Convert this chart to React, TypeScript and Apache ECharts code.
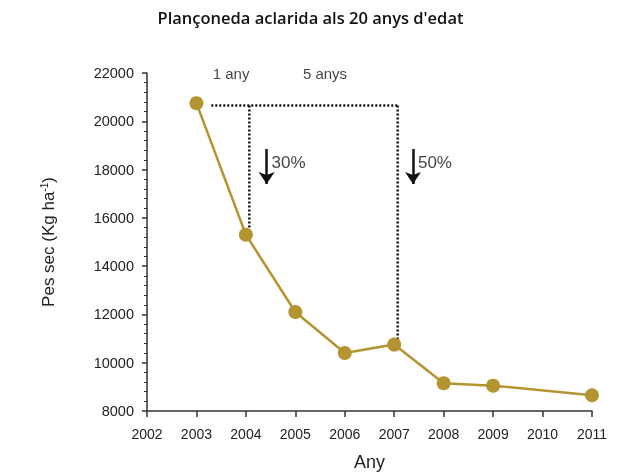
import React, { useEffect, useRef } from "react";
import * as echarts from "echarts";

const years = [2003, 2004, 2005, 2006, 2007, 2008, 2009, 2011];
const weights = [20750, 15300, 12100, 10400, 10750, 9150, 9050, 8650];
const yTicks = [8000, 22000, 2000];
const xRange = [2002, 2011];
const thinLine = [[2003.3, 20650], [2007.07, 20650]];
const drop1 = [[2004.07, 20650], [2004.07, 15300]];
const drop2 = [[2007.07, 20650], [2007.07, 10850]];
const arrows = [
  [[2004.42, 18850], [2004.42, 17400]],
  [[2007.38, 18850], [2007.38, 17400]],
];
const notes = [
  { x: 2003.7, y: 22000, text: "1 any", align: "center" },
  { x: 2005.6, y: 22000, text: "5 anys", align: "center" },
  { x: 2004.52, y: 18300, text: "30%", align: "left" },
  { x: 2007.48, y: 18300, text: "50%", align: "left" },
];

const GOLD = "#B39430";

export default function App() {
  const ref = useRef<HTMLDivElement>(null);
  useEffect(() => {
    const chart = echarts.init(ref.current!, null, { renderer: "svg" });
    const dotted = { color: "#111", width: 2.5, type: [2, 2] as any };
    chart.setOption({
      animation: false,
      title: {
        text: "Plançoneda aclarida als 20 anys d'edat",
        left: "center",
        top: 4,
        textStyle: { fontFamily: "Open Sans", fontWeight: 600, fontSize: 16.5, color: "#111" },
      },
      grid: { left: 147, right: 29, top: 73, bottom: 64, outerBoundsMode: "none", containLabel: false },
      xAxis: {
        type: "value",
        min: xRange[0],
        max: xRange[1],
        interval: 1,
        name: "Any",
        nameLocation: "middle",
        nameGap: 42,
        nameTextStyle: { fontFamily: "Liberation Sans", fontSize: 18, color: "#222" },
        splitLine: { show: false },
        axisLine: { lineStyle: { color: "#333", width: 1.5 } },
        axisTick: { lineStyle: { color: "#333", width: 1.5 }, length: 6 },
        axisLabel: { fontFamily: "Liberation Sans", fontSize: 14, color: "#222", margin: 16, formatter: (v: number) => String(v) },
      },
      yAxis: {
        type: "value",
        min: yTicks[0],
        max: yTicks[1],
        interval: yTicks[2],
        name: "Pes sec (Kg ha{sup|-1})",
        nameLocation: "middle",
        nameGap: 90,
        nameTextStyle: {
          fontFamily: "Liberation Sans",
          fontSize: 17,
          color: "#222",
          rich: { sup: { fontFamily: "Liberation Sans", fontSize: 10, color: "#222", verticalAlign: "top", padding: [0, 0, 8, 0] } },
        },
        splitLine: { show: false },
        axisLine: { show: true, lineStyle: { color: "#333", width: 1.5 } },
        axisTick: { show: true, lineStyle: { color: "#333", width: 1.5 }, length: 5 },
        minorTick: { show: true, splitNumber: 5, length: 3, lineStyle: { color: "#333", width: 1 } },
        axisLabel: { fontFamily: "Liberation Sans", fontSize: 14.5, color: "#222", margin: 13, formatter: (v: number) => String(v) },
      },
      series: [
        { type: "line", data: thinLine, symbol: "none", lineStyle: dotted, z: 1 },
        { type: "line", data: drop1, symbol: "none", lineStyle: dotted, z: 1 },
        { type: "line", data: drop2, symbol: "none", lineStyle: dotted, z: 1 },
        {
          type: "lines",
          coordinateSystem: "cartesian2d",
          symbol: ["none", "arrow"],
          symbolSize: [9, 12],
          lineStyle: { color: "#111", width: 2.5, opacity: 1 },
          data: arrows.map((c) => ({ coords: c })),
        },
        {
          type: "line",
          data: years.map((y, i) => [y, weights[i]]),
          symbol: "circle",
          symbolSize: 14,
          itemStyle: { color: GOLD },
          lineStyle: { color: GOLD, width: 2.5 },
          z: 5,
        },
        {
          type: "scatter",
          symbolSize: 0,
          data: notes.map((n) => ({
            value: [n.x, n.y],
            name: n.text,
            label: { align: n.align, fontSize: n.text.includes("%") ? 17 : 15 },
          })),
          label: {
            show: true,
            position: "inside",
            formatter: (p: any) => p.name,
            fontFamily: "Liberation Sans",
            fontSize: 15,
            color: "#111",
          },
        },
      ],
    });
    return () => chart.dispose();
  }, []);
  return <div ref={ref} style={{ position: "fixed", left: 0, top: 0, width: 621, height: 475 }} />;
}
